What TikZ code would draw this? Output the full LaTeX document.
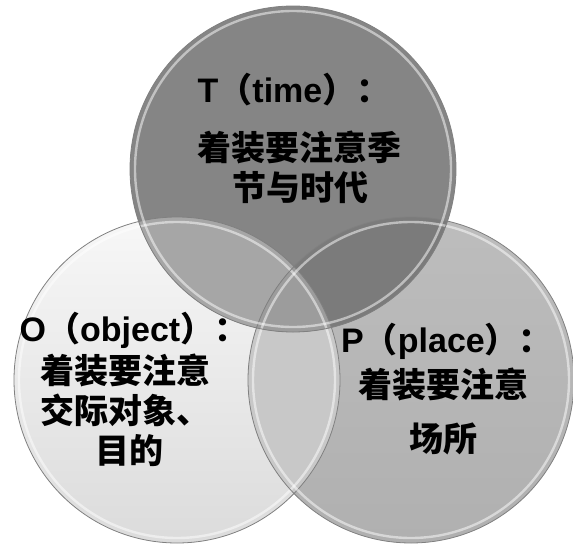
\documentclass[tikz,border=0pt]{standalone}
\usepackage{fontspec}
\setmainfont{Liberation Sans}
\newfontfamily\zhfont{Noto Sans CJK SC}
\newcommand{\zh}[1]{{\zhfont #1}}
\usetikzlibrary{positioning}
\definecolor{tgray}{HTML}{858585}
\definecolor{tlgray}{HTML}{A6A6A6}
\definecolor{trgray}{HTML}{7B7B7B}
\definecolor{lrgray}{HTML}{C8C8C8}
\definecolor{tlrgray}{HTML}{9C9C9C}

\begin{document}
\begin{tikzpicture}[
    x=1pt, y=-1pt,
    font=\bfseries\fontsize{34}{40}\selectfont,
    rim/.style   = {draw=black!50, line width=0.8pt},
    gloss/.style = {draw=white, draw opacity=0.5, line width=2.4pt},
    lbl/.style   = {anchor=base, inner sep=0pt, text=black},
  ]
  \useasboundingbox (0,0) rectangle (573,546);

  % --- Circles ---------------------------------------------------------
  \coordinate (ct) at (293,169);
  \coordinate (cl) at (177,380);
  \coordinate (cr) at (411,380);
  \def\rad{163}

  \shade[top color=black!3,  bottom color=black!14] (cl) circle (\rad);
  \shade[top color=black!26, bottom color=black!31] (cr) circle (\rad);
  \fill[tgray] (ct) circle (\rad);

  % --- Overlaps --------------------------------------------------------
  \begin{scope}
    \clip (cl) circle (\rad);
    \fill[lrgray] (cr) circle (\rad);
  \end{scope}
  \begin{scope}
    \clip (ct) circle (\rad);
    \fill[tlgray] (cl) circle (\rad);
    \fill[trgray] (cr) circle (\rad);
    \clip (cl) circle (\rad);
    \fill[tlrgray] (cr) circle (\rad);
  \end{scope}

  % rims
  \foreach \c in {cl,cr,ct}{
    \draw[rim]   (\c) circle (\rad);
    \draw[gloss] (\c) circle ({\rad-5});
  }

  % --- Labels ----------------------------------------------------------
  \node[lbl] (tline1) at (294,102) {T\zh{（}time\zh{）：}};
  \node[lbl] (tline2) at (299,160) {\zh{着装要注意季}};
  \node[lbl] (tline3) at (300,200) {\zh{节与时代}};

  \node[lbl] (oline1) at (134,341) {O\zh{（}object\zh{）：}};
  \node[lbl] (oline2) at (125,383) {\zh{着装要注意}};
  \node[lbl] (oline3) at (125,423) {\zh{交际对象、}};
  \node[lbl] (oline4) at (129,463) {\zh{目的}};

  \node[lbl] (pline1) at (447,352) {P\zh{（}place\zh{）：}};
  \node[lbl] (pline2) at (443,397) {\zh{着装要注意}};
  \node[lbl] (pline3) at (443,451) {\zh{场所}};

\end{tikzpicture}
\end{document}
